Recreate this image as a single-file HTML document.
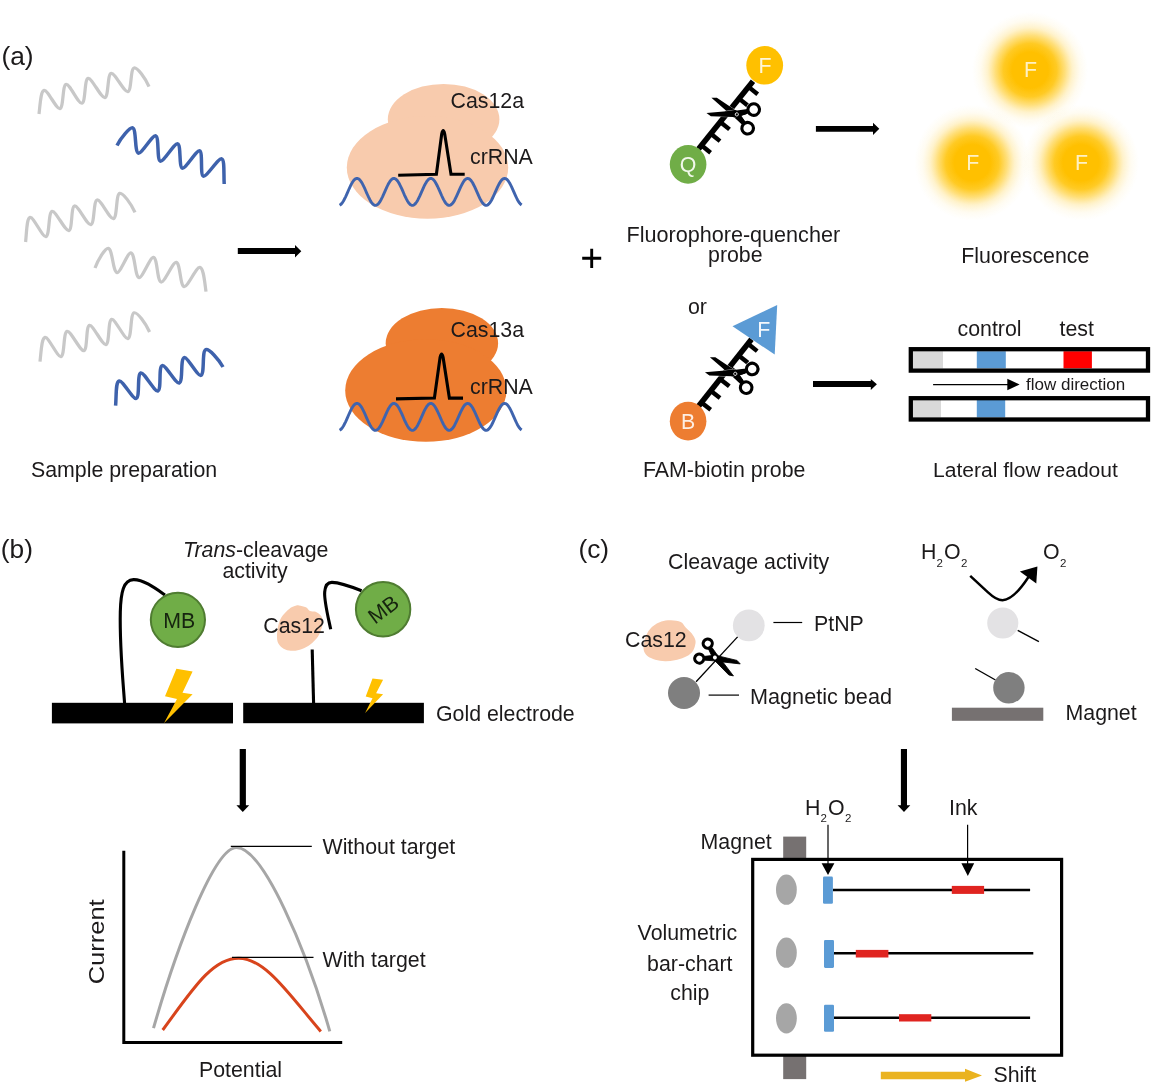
<!DOCTYPE html>
<html>
<head>
<meta charset="utf-8">
<title>CRISPR-Cas detection readouts</title>
<style>
html,body{margin:0;padding:0;background:#fff;}
body{width:1151px;height:1088px;overflow:hidden;}
svg{display:block;will-change:transform;}
text{font-family:"Liberation Sans",sans-serif;font-size:21.33px;fill:#1c1a1b;}
.w{fill:none;stroke-linecap:butt;stroke-linejoin:round;}
.gray{stroke:#c8c8c8;stroke-width:3.25;}
.blue{stroke:#3e62ac;stroke-width:3.5;}
.dna{stroke:#3f64ae;stroke-width:2.9;}
.k{fill:none;stroke:#000;}
.sub{font-size:11.5px;}
</style>
</head>
<body>
<svg width="1151" height="1088" viewBox="0 0 1151 1088">
<defs>
  <radialGradient id="glow" cx="50%" cy="50%" r="50%">
    <stop offset="0" stop-color="#ffc000" stop-opacity="1"/>
    <stop offset="0.31" stop-color="#ffc000" stop-opacity="1"/>
    <stop offset="0.46" stop-color="#ffc306" stop-opacity="0.88"/>
    <stop offset="0.60" stop-color="#ffc81a" stop-opacity="0.58"/>
    <stop offset="0.73" stop-color="#ffd040" stop-opacity="0.27"/>
    <stop offset="0.86" stop-color="#ffd860" stop-opacity="0.09"/>
    <stop offset="1" stop-color="#ffe080" stop-opacity="0"/>
  </radialGradient>
  <g id="sch" stroke="#fff" stroke-width="0.6" paint-order="stroke">
    <path d="M-29.3,-8 L-24.1,-9.7 L-2.5,-3.5 L1.5,-2 L11.2,4.8 L8.6,8.4 L-1,3.9 L-3,3.6 L-10.9,-0.15Z" fill="#000"/>
  </g>
  <g id="sc">
    <!-- scissors: pivot at origin, blades towards -x -->
    <circle cx="14.6" cy="9.8" r="5.8" fill="none" stroke="#fff" stroke-width="4.1"/>
    <circle cx="14.6" cy="-9.8" r="5.8" fill="none" stroke="#fff" stroke-width="4.1"/>
    <use href="#sch"/>
    <use href="#sch" transform="scale(1,-1)"/>
    <circle cx="14.6" cy="9.8" r="5.8" fill="none" stroke="#000" stroke-width="3.1"/>
    <circle cx="14.6" cy="-9.8" r="5.8" fill="none" stroke="#000" stroke-width="3.1"/>
    <path d="M-8,-0.6 L2,-2.2 L9.4,3.5 L7.5,6.4 L-1,2.8 L-6,1.2Z" fill="#000"/>
    <path d="M-8,0.6 L2,2.2 L9.4,-3.5 L7.5,-6.4 L-1,-2.8 L-6,-1.2Z" fill="#000"/>
    <circle cx="0" cy="0" r="1.6" fill="#000" stroke="#fff" stroke-width="0.8"/>
  </g>
  <g id="sc2">
    <!-- bolder scissors for panel c -->
    <g stroke="#000" stroke-width="0.9" stroke-linejoin="round">
      <path d="M-29.3,-8 L-24.1,-9.7 L-2.5,-3.5 L1.5,-2 L11.2,4.8 L8.6,8.4 L-1,3.9 L-3,3.6 L-10.9,-0.15Z" fill="#000"/>
      <path d="M-29.3,8 L-24.1,9.7 L-2.5,3.5 L1.5,2 L11.2,-4.8 L8.6,-8.4 L-1,-3.9 L-3,-3.6 L-10.9,0.15Z" fill="#000"/>
    </g>
    <circle cx="15.2" cy="10" r="5.3" fill="none" stroke="#000" stroke-width="3.6"/>
    <circle cx="15.2" cy="-10" r="5.3" fill="none" stroke="#000" stroke-width="3.6"/>
    <circle cx="0" cy="0" r="2.3" fill="#fff"/>
  </g>
</defs>

<!-- ================= (a) ================= -->
<text x="1.4" y="65" style="font-size:26.3px">(a)</text>

<!-- sample waves -->
<path class="w gray" d="M39.0,114.0 C40.3,103.4 40.7,91.2 44.1,90.4 C47.6,89.5 56.4,109.5 59.9,108.6 C63.7,107.7 62.3,85.3 66.1,84.4 C69.5,83.5 78.5,104.1 81.9,103.2 C85.8,102.3 84.2,79.3 88.1,78.4 C91.8,77.5 101.2,98.5 104.9,97.6 C108.7,96.7 107.3,74.3 111.1,73.4 C114.9,72.4 124.1,92.6 127.9,91.6 C131.7,90.7 130.3,68.9 134.1,68.0 C137.3,67.2 145.3,78.2 149.0,86.6"/>
<path class="w blue" d="M117.0,145.6 C120.9,137.6 130.1,127.0 132.7,127.9 C136.5,129.2 134.5,151.8 138.3,153.1 C141.4,154.2 152.6,134.8 155.7,135.9 C159.3,137.1 156.7,159.9 160.3,161.1 C163.4,162.2 174.6,142.8 177.7,143.9 C181.2,145.0 178.8,167.0 182.3,168.1 C185.4,169.2 196.6,149.8 199.7,150.9 C203.0,152.0 200.0,175.0 203.3,176.1 C206.6,177.3 218.4,157.7 221.7,158.9 C224.7,159.9 223.6,172.7 224.2,184.0"/>
<path class="w gray" d="M25.6,242.0 C26.7,230.9 26.8,218.2 30.1,217.4 C33.5,216.5 42.5,237.5 45.9,236.6 C49.8,235.6 48.2,212.4 52.1,211.4 C55.8,210.5 65.2,231.5 68.9,230.6 C72.5,229.7 70.9,206.9 74.5,206.0 C78.2,205.1 87.2,225.5 90.9,224.6 C94.7,223.7 93.3,200.9 97.1,200.0 C100.8,199.1 109.8,219.5 113.5,218.6 C117.4,217.6 115.8,194.4 119.7,193.4 C123.0,192.6 131.2,203.8 135.0,212.4"/>
<path class="w gray" d="M95.0,268.0 C98.3,259.2 105.4,247.8 108.3,248.4 C112.7,249.3 112.7,271.7 117.1,272.6 C120.1,273.3 127.9,252.1 130.9,252.8 C135.2,253.7 134.8,276.7 139.1,277.6 C142.3,278.3 150.3,256.7 153.5,257.4 C157.6,258.3 157.0,281.1 161.1,282.0 C164.6,282.8 172.8,261.6 176.3,262.4 C180.4,263.3 180.0,285.7 184.1,286.6 C187.8,287.4 196.2,266.6 199.9,267.4 C203.5,268.1 204.5,280.7 206.0,291.6"/>
<path class="w gray" d="M40.0,361.6 C41.3,350.7 41.5,338.3 45.1,337.4 C48.4,336.5 57.6,357.5 60.9,356.6 C64.9,355.5 63.1,332.5 67.1,331.4 C70.7,330.4 80.3,351.6 83.9,350.6 C87.7,349.6 85.7,326.4 89.5,325.4 C93.0,324.5 102.4,345.5 105.9,344.6 C109.8,343.6 107.8,320.4 111.7,319.4 C115.1,318.5 124.5,339.5 127.9,338.6 C131.9,337.5 130.1,313.9 134.1,312.8 C137.3,311.9 145.7,323.4 149.6,332.0"/>
<path class="w blue" d="M115.6,405.6 C116.5,394.5 115.5,382.3 119.2,381.0 C122.3,379.8 133.1,399.6 136.2,398.4 C140.2,397.0 136.8,374.4 140.8,373.0 C143.8,371.9 154.8,392.1 157.8,391.0 C161.8,389.6 158.2,367.0 162.2,365.6 C165.3,364.4 176.1,384.2 179.2,383.0 C183.4,381.5 180.0,359.1 184.2,357.6 C187.1,356.5 197.9,376.5 200.8,375.4 C205.0,373.9 201.6,351.1 205.8,349.6 C209.0,348.4 218.7,359.2 223.0,367.0"/>
<text x="31" y="476.8">Sample preparation</text>

<!-- arrow 1 -->
<path d="M237.8,248 H295 V245 L301.3,251.2 L295,257.4 V254 H237.8Z" fill="#000"/>

<!-- Cas12a -->
<ellipse cx="443.6" cy="119.3" rx="55.8" ry="35.4" fill="#f8cbad"/>
<ellipse cx="427.5" cy="167.4" rx="80.7" ry="51.3" fill="#f8cbad"/>
<path class="w dna" d="M339.6,205.2 L340.6,204.6 L341.6,203.6 L342.6,202.3 L343.6,200.7 L344.6,198.8 L345.6,196.8 L346.6,194.6 L347.6,192.3 L348.6,190.0 L349.6,187.8 L350.6,185.7 L351.6,183.7 L352.6,182.0 L353.6,180.6 L354.6,179.5 L355.6,178.8 L356.6,178.4 L357.6,178.5 L358.6,178.9 L359.6,179.7 L360.6,180.9 L361.6,182.3 L362.6,184.1 L363.6,186.1 L364.6,188.2 L365.6,190.5 L366.6,192.8 L367.6,195.0 L368.6,197.2 L369.6,199.2 L370.6,201.1 L371.6,202.6 L372.6,203.8 L373.6,204.7 L374.6,205.3 L375.6,205.4 L376.6,205.1 L377.6,204.5 L378.6,203.5 L379.6,202.2 L380.6,200.5 L381.6,198.6 L382.6,196.6 L383.6,194.4 L384.6,192.1 L385.6,189.8 L386.6,187.6 L387.6,185.5 L388.6,183.5 L389.6,181.9 L390.6,180.5 L391.6,179.4 L392.6,178.7 L393.6,178.4 L394.6,178.5 L395.6,179.0 L396.6,179.8 L397.6,181.0 L398.6,182.5 L399.6,184.3 L400.6,186.3 L401.6,188.4 L402.6,190.7 L403.6,193.0 L404.6,195.3 L405.6,197.4 L406.6,199.4 L407.6,201.2 L408.6,202.7 L409.6,203.9 L410.6,204.8 L411.6,205.3 L412.6,205.4 L413.6,205.1 L414.6,204.4 L415.6,203.4 L416.6,202.0 L417.6,200.4 L418.6,198.4 L419.6,196.4 L420.6,194.1 L421.6,191.8 L422.6,189.6 L423.6,187.3 L424.6,185.2 L425.6,183.4 L426.6,181.7 L427.6,180.4 L428.6,179.3 L429.6,178.7 L430.6,178.4 L431.6,178.5 L432.6,179.0 L433.6,179.9 L434.6,181.1 L435.6,182.7 L436.6,184.5 L437.6,186.5 L438.6,188.7 L439.6,190.9 L440.6,193.2 L441.6,195.5 L442.6,197.6 L443.6,199.6 L444.6,201.4 L445.6,202.9 L446.6,204.0 L447.6,204.9 L448.6,205.3 L449.6,205.4 L450.6,205.0 L451.6,204.3 L452.6,203.3 L453.6,201.9 L454.6,200.2 L455.6,198.2 L456.6,196.1 L457.6,193.9 L458.6,191.6 L459.6,189.3 L460.6,187.1 L461.6,185.1 L462.6,183.2 L463.6,181.6 L464.6,180.2 L465.6,179.3 L466.6,178.6 L467.6,178.4 L468.6,178.6 L469.6,179.1 L470.6,180.0 L471.6,181.3 L472.6,182.8 L473.6,184.7 L474.6,186.7 L475.6,188.9 L476.6,191.2 L477.6,193.4 L478.6,195.7 L479.6,197.8 L480.6,199.8 L481.6,201.5 L482.6,203.0 L483.6,204.1 L484.6,204.9 L485.6,205.3 L486.6,205.4 L487.6,205.0 L488.6,204.2 L489.6,203.1 L490.6,201.7 L491.6,200.0 L492.6,198.0 L493.6,195.9 L494.6,193.7 L495.6,191.4 L496.6,189.1 L497.6,186.9 L498.6,184.9 L499.6,183.0 L500.6,181.4 L501.6,180.1 L502.6,179.2 L503.6,178.6 L504.6,178.4 L505.6,178.6 L506.6,179.2 L507.6,180.1 L508.6,181.4 L509.6,183.0 L510.6,184.9 L511.6,186.9 L512.6,189.1 L513.6,191.4 L514.6,193.7 L515.6,195.9 L516.6,198.0 L517.6,200.0 L518.6,201.7 L519.6,203.1 L520.6,204.2 L521.6,205.0"/>
<path class="k" stroke-width="3.1" stroke-linejoin="miter" d="M398.2,175.3 L436.4,174.3 L441.7,134 Q443.2,127.3 444.7,134 L451,174.3 L464.7,174.3"/>
<text x="450.5" y="107.6">Cas12a</text>
<text x="470" y="163.6">crRNA</text>

<!-- Cas13a -->
<ellipse cx="441.9" cy="343.2" rx="56.2" ry="35.2" fill="#ed7d31"/>
<ellipse cx="425.8" cy="390.5" rx="80.6" ry="51.3" fill="#ed7d31"/>
<path class="w dna" d="M339.6,430.2 L340.6,429.6 L341.6,428.6 L342.6,427.3 L343.6,425.7 L344.6,423.8 L345.6,421.8 L346.6,419.6 L347.6,417.3 L348.6,415.0 L349.6,412.8 L350.6,410.7 L351.6,408.7 L352.6,407.0 L353.6,405.6 L354.6,404.5 L355.6,403.8 L356.6,403.4 L357.6,403.5 L358.6,403.9 L359.6,404.7 L360.6,405.9 L361.6,407.3 L362.6,409.1 L363.6,411.1 L364.6,413.2 L365.6,415.5 L366.6,417.8 L367.6,420.0 L368.6,422.2 L369.6,424.2 L370.6,426.1 L371.6,427.6 L372.6,428.8 L373.6,429.7 L374.6,430.3 L375.6,430.4 L376.6,430.1 L377.6,429.5 L378.6,428.5 L379.6,427.2 L380.6,425.5 L381.6,423.6 L382.6,421.6 L383.6,419.4 L384.6,417.1 L385.6,414.8 L386.6,412.6 L387.6,410.5 L388.6,408.5 L389.6,406.9 L390.6,405.5 L391.6,404.4 L392.6,403.7 L393.6,403.4 L394.6,403.5 L395.6,404.0 L396.6,404.8 L397.6,406.0 L398.6,407.5 L399.6,409.3 L400.6,411.3 L401.6,413.4 L402.6,415.7 L403.6,418.0 L404.6,420.3 L405.6,422.4 L406.6,424.4 L407.6,426.2 L408.6,427.7 L409.6,428.9 L410.6,429.8 L411.6,430.3 L412.6,430.4 L413.6,430.1 L414.6,429.4 L415.6,428.4 L416.6,427.0 L417.6,425.4 L418.6,423.4 L419.6,421.4 L420.6,419.1 L421.6,416.8 L422.6,414.6 L423.6,412.3 L424.6,410.2 L425.6,408.4 L426.6,406.7 L427.6,405.4 L428.6,404.3 L429.6,403.7 L430.6,403.4 L431.6,403.5 L432.6,404.0 L433.6,404.9 L434.6,406.1 L435.6,407.7 L436.6,409.5 L437.6,411.5 L438.6,413.7 L439.6,415.9 L440.6,418.2 L441.6,420.5 L442.6,422.6 L443.6,424.6 L444.6,426.4 L445.6,427.9 L446.6,429.0 L447.6,429.9 L448.6,430.3 L449.6,430.4 L450.6,430.0 L451.6,429.3 L452.6,428.3 L453.6,426.9 L454.6,425.2 L455.6,423.2 L456.6,421.1 L457.6,418.9 L458.6,416.6 L459.6,414.3 L460.6,412.1 L461.6,410.1 L462.6,408.2 L463.6,406.6 L464.6,405.2 L465.6,404.3 L466.6,403.6 L467.6,403.4 L468.6,403.6 L469.6,404.1 L470.6,405.0 L471.6,406.3 L472.6,407.8 L473.6,409.7 L474.6,411.7 L475.6,413.9 L476.6,416.2 L477.6,418.4 L478.6,420.7 L479.6,422.8 L480.6,424.8 L481.6,426.5 L482.6,428.0 L483.6,429.1 L484.6,429.9 L485.6,430.3 L486.6,430.4 L487.6,430.0 L488.6,429.2 L489.6,428.1 L490.6,426.7 L491.6,425.0 L492.6,423.0 L493.6,420.9 L494.6,418.7 L495.6,416.4 L496.6,414.1 L497.6,411.9 L498.6,409.9 L499.6,408.0 L500.6,406.4 L501.6,405.1 L502.6,404.2 L503.6,403.6 L504.6,403.4 L505.6,403.6 L506.6,404.2 L507.6,405.1 L508.6,406.4 L509.6,408.0 L510.6,409.9 L511.6,411.9 L512.6,414.1 L513.6,416.4 L514.6,418.7 L515.6,420.9 L516.6,423.0 L517.6,425.0 L518.6,426.7 L519.6,428.1 L520.6,429.2 L521.6,430.0"/>
<path class="k" stroke-width="3.1" stroke-linejoin="miter" d="M396,398.9 L434.4,398.1 L440.1,357.4 Q441.6,350.7 443.1,357.4 L449.4,398.1 L463,398.1"/>
<text x="450.5" y="336.6">Cas13a</text>
<text x="470" y="394">crRNA</text>

<!-- plus -->
<path class="k" stroke="#231815" stroke-width="2.9" d="M582.2,258.3 H601.2 M591.7,248.7 V267.9"/>

<!-- FQ probe -->
<line x1="698.5" y1="149.0" x2="753.0" y2="81.3" stroke="#000" stroke-width="5.5"/><line x1="701.4" y1="145.3" x2="710.6" y2="152.7" stroke="#000" stroke-width="4.4"/><line x1="710.9" y1="133.7" x2="720.0" y2="141.1" stroke="#000" stroke-width="4.4"/><line x1="720.3" y1="122.0" x2="729.5" y2="129.4" stroke="#000" stroke-width="4.4"/><line x1="729.7" y1="110.3" x2="738.9" y2="117.7" stroke="#000" stroke-width="4.4"/><line x1="739.1" y1="98.6" x2="748.3" y2="106.0" stroke="#000" stroke-width="4.4"/><line x1="748.5" y1="86.9" x2="757.7" y2="94.3" stroke="#000" stroke-width="4.4"/>
<ellipse cx="764.7" cy="65.3" rx="18.4" ry="19.3" fill="#ffc000"/>
<ellipse cx="688.1" cy="164.4" rx="18.3" ry="19.4" fill="#70ad47"/>
<text x="764.9" y="73" text-anchor="middle" style="fill:#fff6d8">F</text>
<text x="688.1" y="172.2" text-anchor="middle" style="fill:#f1f8ea">Q</text>
<use href="#sc" transform="translate(736.8,114.4) rotate(18)"/>
<text x="733.3" y="241.6" text-anchor="middle" style="font-size:21.6px">Fluorophore-quencher</text>
<text x="735.3" y="262.4" text-anchor="middle">probe</text>

<!-- arrow 2 -->
<path d="M815.9,125.9 H873 V122.8 L879.3,128.85 L873,134.9 V131.8 H815.9Z" fill="#000"/>

<!-- fluorescence -->
<circle cx="1030.1" cy="70.1" r="58" fill="url(#glow)"/>
<circle cx="972.3" cy="162.7" r="58" fill="url(#glow)"/>
<circle cx="1081" cy="162.7" r="58" fill="url(#glow)"/>
<text x="1030.6" y="77.4" text-anchor="middle" style="fill:#fff1c4">F</text>
<text x="972.8" y="170" text-anchor="middle" style="fill:#fff1c4">F</text>
<text x="1081.5" y="170" text-anchor="middle" style="fill:#fff1c4">F</text>
<text x="961.3" y="263.3">Fluorescence</text>

<!-- or -->
<text x="688" y="314.3">or</text>

<!-- FAM-biotin probe -->
<line x1="698.5" y1="406.2" x2="751.5" y2="339.3" stroke="#000" stroke-width="5.5"/><line x1="701.4" y1="402.5" x2="710.7" y2="409.8" stroke="#000" stroke-width="4.4"/><line x1="710.7" y1="390.8" x2="720.0" y2="398.1" stroke="#000" stroke-width="4.4"/><line x1="720.0" y1="379.0" x2="729.3" y2="386.3" stroke="#000" stroke-width="4.4"/><line x1="729.4" y1="367.2" x2="738.6" y2="374.6" stroke="#000" stroke-width="4.4"/><line x1="738.7" y1="355.5" x2="747.9" y2="362.8" stroke="#000" stroke-width="4.4"/><line x1="748.0" y1="343.7" x2="757.2" y2="351.1" stroke="#000" stroke-width="4.4"/>
<polygon points="732.5,326.2 777.2,305 774.7,354.6" fill="#5b9bd5"/>
<ellipse cx="688.1" cy="421.2" rx="18.3" ry="19.4" fill="#ed7d31"/>
<text x="763.7" y="336.9" text-anchor="middle" style="fill:#f4f8fc">F</text>
<text x="688.1" y="428.9" text-anchor="middle" style="fill:#fdeee3">B</text>
<use href="#sc" transform="translate(735.3,373.8) rotate(18)"/>
<text x="643" y="476.8">FAM-biotin probe</text>

<!-- arrow 3 -->
<path d="M813,381.1 H870.8 V378.9 L876.9,384.3 L870.8,389.9 V386.9 H813Z" fill="#000"/>

<!-- lateral flow -->
<text x="957.5" y="335.8">control</text>
<text x="1059.5" y="335.8">test</text>
<rect x="913" y="351.2" width="30" height="17.2" fill="#d9d9d9"/>
<rect x="976.8" y="351.2" width="29" height="17.2" fill="#5b9bd5"/>
<rect x="1063.5" y="351.2" width="28.4" height="17.2" fill="#ff0000"/>
<rect x="910.8" y="349.2" width="237.2" height="21.4" fill="none" stroke="#000" stroke-width="4.3"/>
<rect x="912" y="400" width="29" height="17.5" fill="#d9d9d9"/>
<rect x="976.8" y="400" width="28.4" height="17.5" fill="#5b9bd5"/>
<rect x="910.8" y="398.2" width="237.2" height="21.3" fill="none" stroke="#000" stroke-width="4.3"/>
<line x1="933.1" y1="384.6" x2="1009" y2="384.6" stroke="#000" stroke-width="1.4"/>
<polygon points="1007.3,378.7 1019.6,384.5 1007.3,390.3" fill="#000"/>
<text x="1026" y="390.2" style="font-size:17px">flow direction</text>
<text x="933" y="477" style="font-size:21.05px">Lateral flow readout</text>

<!-- ================= (b) ================= -->
<text x="0.8" y="557.7" style="font-size:26.3px">(b)</text>
<text x="183" y="557" ><tspan font-style="italic">Trans</tspan>-cleavage</text>
<text x="255" y="578.2" text-anchor="middle">activity</text>

<rect x="51.9" y="702.8" width="181.1" height="20.6" fill="#000"/>
<rect x="243.2" y="702.8" width="180.7" height="20.4" fill="#000"/>
<text x="436" y="720.7">Gold electrode</text>

<path class="k" stroke-width="3.1" d="M124.6,703.5 C122.5,675 119.6,645 120.3,612 C120.8,592 123.5,580 133.5,579.6 C143,579.3 155,588 165,595"/>
<circle cx="177.9" cy="619.8" r="27.1" fill="#70ad47" stroke="#4f7c31" stroke-width="2"/>
<text x="179.2" y="628.3" text-anchor="middle" style="fill:#16240f">MB</text>
<polygon points="176.4,668.8 192.6,671.5 182.5,692.7 192.6,694.2 164.1,723 177,699.1 165,696.3" fill="#ffc000"/>

<path d="M298.9,605.4 C300.8,605.6 304.0,606.3 305.9,607.2 C307.8,608.1 308.4,610.2 310.0,611.0 C311.6,611.8 313.9,611.0 315.6,611.7 C317.4,612.4 319.3,613.8 320.5,615.2 C321.7,616.6 322.5,618.1 322.8,620.0 C323.1,621.9 322.8,624.0 322.2,626.3 C321.6,628.6 320.5,631.7 319.4,633.9 C318.3,636.1 317.4,637.5 315.6,639.5 C313.8,641.5 311.4,644.0 308.6,645.7 C305.8,647.4 302.1,649.1 298.9,649.9 C295.7,650.7 292.0,651.0 289.2,650.6 C286.4,650.2 284.0,649.1 282.2,647.8 C280.4,646.5 279.0,644.9 278.1,643.0 C277.2,641.1 277.1,639.1 277.0,636.7 C276.9,634.3 277.3,631.0 277.7,628.4 C278.1,625.8 278.6,623.6 279.5,621.4 C280.4,619.2 281.3,617.3 282.9,615.2 C284.5,613.1 287.2,610.4 289.2,608.9 C291.2,607.4 293.1,606.7 294.7,606.1 C296.3,605.5 297.0,605.2 298.9,605.4Z" fill="#f8cbad"/>
<text x="263.3" y="632.9">Cas12</text>
<path class="k" stroke-width="3.1" d="M313.6,703.5 L312.2,649.5"/>
<path class="k" stroke-width="3.1" d="M330.7,629.3 C327,612 324,600 324.7,592 C325.3,585 327.5,582.3 332,582.4 C340,582.6 352,587 361.6,590.8"/>
<circle cx="383.1" cy="609.2" r="27.2" fill="#70ad47" stroke="#4f7c31" stroke-width="2"/>
<text x="0" y="0" text-anchor="middle" transform="translate(387.9,615.2) rotate(-37)" style="fill:#16240f">MB</text>
<polygon points="372.5,678.5 383.1,679.8 376.1,693.2 383.1,694.2 365.1,712.9 372.5,698.2 365.7,696.4" fill="#ffc000"/>

<!-- down arrow b -->
<path d="M239.7,749.1 H245.9 V805.3 H249.2 L242.8,812 L236.4,805.3 H239.7Z" fill="#000"/>

<!-- graph -->
<path class="k" stroke-width="3" stroke-linejoin="miter" d="M123.8,850.7 V1042.4 H342.2"/>
<path class="w" stroke="#a6a6a6" stroke-width="3" d="M153.5,1028.2 C177,946.4 214.5,847.5 236.4,847.5 C263.2,847.5 306.3,949.6 329.8,1031.4"/>
<path class="w" stroke="#d8441c" stroke-width="3" d="M162.7,1030 C191.6,990.8 211.8,958.2 238.6,958.2 C265.4,958.2 289.1,994.5 320.8,1031.4"/>
<line x1="230.8" y1="846.4" x2="311.8" y2="846.4" stroke="#000" stroke-width="1.1"/>
<line x1="232" y1="957.4" x2="313.5" y2="957.4" stroke="#000" stroke-width="1.1"/>
<text x="322.5" y="854.4">Without target</text>
<text x="322.5" y="967.3">With target</text>
<text x="0" y="0" transform="translate(104.2,984.3) rotate(-90)" textLength="85" lengthAdjust="spacingAndGlyphs">Current</text>
<text x="199" y="1077.2">Potential</text>

<!-- ================= (c) ================= -->
<text x="578.4" y="558.2" style="font-size:26.3px">(c)</text>
<text x="668" y="569">Cleavage activity</text>

<path d="M671.1,620.2 C674.3,620.3 678.4,620.8 680.8,622.0 C683.2,623.2 683.9,625.6 685.7,627.5 C687.5,629.4 690.2,631.5 691.8,633.6 C693.4,635.7 694.9,638.2 695.4,640.3 C695.9,642.4 695.4,644.4 694.8,646.4 C694.2,648.4 693.5,650.6 691.8,652.4 C690.1,654.2 687.4,656.0 684.5,657.3 C681.6,658.6 678.0,659.6 674.7,660.3 C671.5,660.9 668.2,661.3 665.0,661.2 C661.8,661.1 658.2,660.6 655.3,659.7 C652.4,658.9 649.3,657.7 647.4,656.1 C645.5,654.5 644.2,652.4 643.7,650.0 C643.2,647.6 643.7,644.3 644.3,641.5 C644.9,638.7 646.0,635.5 647.4,633.0 C648.8,630.5 650.5,628.2 652.8,626.3 C655.1,624.4 658.3,622.4 661.4,621.4 C664.5,620.4 667.9,620.1 671.1,620.2Z" fill="#f8cbad"/>
<text x="625" y="647">Cas12</text>
<line x1="696.1" y1="681.7" x2="737.8" y2="636.6" stroke="#000" stroke-width="1.3"/>
<circle cx="748.8" cy="625.4" r="15.9" fill="#e3e2e4"/>
<circle cx="684" cy="693" r="16" fill="#7f7f7f"/>
<use href="#sc2" transform="translate(714.9,657.5) rotate(209.5) scale(0.86)"/>
<line x1="773.4" y1="622.5" x2="802.2" y2="622.5" stroke="#000" stroke-width="1.2"/>
<text x="814" y="631.2">PtNP</text>
<line x1="708.6" y1="695.1" x2="739" y2="695.1" stroke="#000" stroke-width="1.2"/>
<text x="750" y="703.8" style="font-size:21.65px">Magnetic bead</text>

<text x="921" y="559.4">H<tspan class="sub" dy="7.5">2</tspan><tspan dy="-7.5" dx="1.2">O</tspan><tspan class="sub" dy="7.5" dx="0.3">2</tspan></text>
<text x="1043" y="559.4">O<tspan class="sub" dy="7.5" dx="0.3">2</tspan></text>
<path class="k" stroke-width="2.5" d="M970.2,575.8 L988,592.3 C995,598.8 998.5,600.2 1002.5,600.2 C1010,600.2 1018,593 1028.5,577"/>
<polygon points="1037.4,566.6 1019.9,571.4 1036.3,583.4" fill="#000"/>
<circle cx="1002.8" cy="623" r="15.6" fill="#e3e2e4"/>
<line x1="1017.7" y1="630.3" x2="1038.9" y2="641.6" stroke="#000" stroke-width="1.4"/>
<line x1="975.2" y1="668.5" x2="995.5" y2="680" stroke="#000" stroke-width="1.4"/>
<circle cx="1008.9" cy="687.8" r="15.7" fill="#7f7f7f"/>
<rect x="951.9" y="707.7" width="91.4" height="13.1" fill="#767171"/>
<text x="1065.5" y="720.4">Magnet</text>

<!-- down arrow c -->
<path d="M900.9,749.1 H907 V805.3 H910.3 L904,812 L897.6,805.3 H900.9Z" fill="#000"/>

<!-- chip -->
<text x="805" y="814.5">H<tspan class="sub" dy="7.5">2</tspan><tspan dy="-7.5" dx="1.2">O</tspan><tspan class="sub" dy="7.5" dx="0.3">2</tspan></text>
<text x="949" y="814.5">Ink</text>
<text x="700.6" y="848.7">Magnet</text>
<text x="687.4" y="939.8" text-anchor="middle">Volumetric</text>
<text x="689.8" y="970.5" text-anchor="middle">bar-chart</text>
<text x="689.8" y="999.8" text-anchor="middle">chip</text>
<rect x="783.2" y="836.6" width="23" height="23" fill="#767171"/>
<rect x="783.2" y="1055" width="23" height="24.1" fill="#767171"/>
<rect x="752.7" y="859.4" width="308.9" height="195.8" fill="#fff" stroke="#000" stroke-width="3.2"/>
<ellipse cx="786.4" cy="889.7" rx="10.4" ry="15.1" fill="#a6a6a6"/>
<ellipse cx="786.4" cy="952.7" rx="10.4" ry="15.1" fill="#a6a6a6"/>
<ellipse cx="786.4" cy="1018.3" rx="10.4" ry="15.1" fill="#a6a6a6"/>
<line x1="833" y1="890" x2="1030.1" y2="890" stroke="#000" stroke-width="2.4"/>
<line x1="834" y1="953.3" x2="1033.3" y2="953.3" stroke="#000" stroke-width="2.4"/>
<line x1="834" y1="1017.8" x2="1030.1" y2="1017.8" stroke="#000" stroke-width="2.4"/>
<rect x="823" y="876.6" width="9.9" height="27.2" rx="1.3" fill="#5b9bd5"/>
<rect x="824" y="940" width="10" height="27.9" rx="1.3" fill="#5b9bd5"/>
<rect x="824" y="1004.8" width="10" height="27" rx="1.3" fill="#5b9bd5"/>
<rect x="951.8" y="885.9" width="32.3" height="8" fill="#e02420"/>
<rect x="855.8" y="949.9" width="32.6" height="7.6" fill="#e02420"/>
<rect x="899" y="1014.2" width="32.3" height="7.3" fill="#e02420"/>
<line x1="828" y1="824.8" x2="828" y2="865" stroke="#000" stroke-width="1.2"/>
<polygon points="821.6,863.2 834.4,863.2 828,875" fill="#000"/>
<line x1="967.6" y1="824.8" x2="967.6" y2="865" stroke="#000" stroke-width="1.2"/>
<polygon points="961.4,863.2 974.2,863.2 967.8,876" fill="#000"/>
<path d="M880.8,1071.8 H965 V1068.7 L982,1075.4 L965,1081.8 V1079.2 H880.8Z" fill="#eab320"/>
<text x="993.5" y="1081.7">Shift</text>
</svg>
</body>
</html>
